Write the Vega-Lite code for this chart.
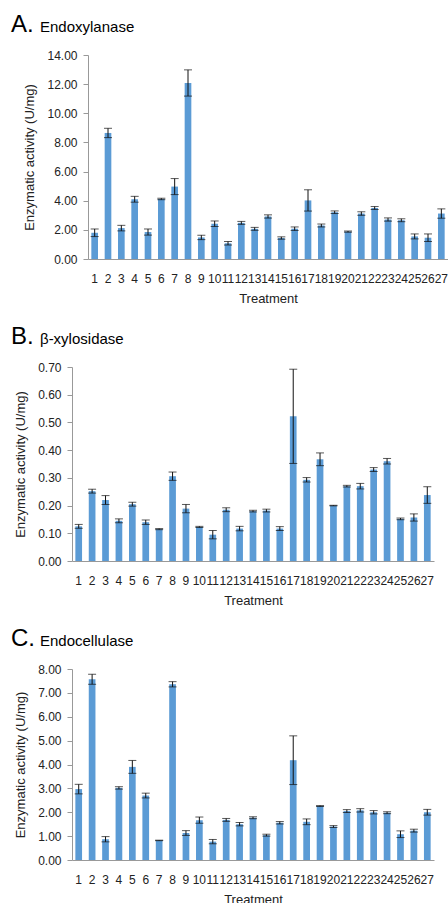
{
  "$schema": "https://vega.github.io/schema/vega-lite/v6.json",
  "padding": {"left": 11, "top": 13, "right": 0, "bottom": 0},
  "background": "white",
  "datasets": {
    "endoxylanase": [
      {"treatment": 1, "activity": 1.80, "err": 0.26},
      {"treatment": 2, "activity": 8.65, "err": 0.32},
      {"treatment": 3, "activity": 2.12, "err": 0.19},
      {"treatment": 4, "activity": 4.10, "err": 0.20},
      {"treatment": 5, "activity": 1.85, "err": 0.21},
      {"treatment": 6, "activity": 4.12, "err": 0.05},
      {"treatment": 7, "activity": 4.97, "err": 0.55},
      {"treatment": 8, "activity": 12.08, "err": 0.90},
      {"treatment": 9, "activity": 1.48, "err": 0.15},
      {"treatment": 10, "activity": 2.42, "err": 0.19},
      {"treatment": 11, "activity": 1.08, "err": 0.12},
      {"treatment": 12, "activity": 2.48, "err": 0.10},
      {"treatment": 13, "activity": 2.07, "err": 0.10},
      {"treatment": 14, "activity": 2.92, "err": 0.11},
      {"treatment": 15, "activity": 1.44, "err": 0.08},
      {"treatment": 16, "activity": 2.08, "err": 0.12},
      {"treatment": 17, "activity": 4.02, "err": 0.73},
      {"treatment": 18, "activity": 2.30, "err": 0.10},
      {"treatment": 19, "activity": 3.21, "err": 0.09},
      {"treatment": 20, "activity": 1.88, "err": 0.04},
      {"treatment": 21, "activity": 3.12, "err": 0.12},
      {"treatment": 22, "activity": 3.50, "err": 0.10},
      {"treatment": 23, "activity": 2.71, "err": 0.11},
      {"treatment": 24, "activity": 2.66, "err": 0.10},
      {"treatment": 25, "activity": 1.55, "err": 0.17},
      {"treatment": 26, "activity": 1.46, "err": 0.26},
      {"treatment": 27, "activity": 3.12, "err": 0.32}
    ],
    "xylosidase": [
      {"treatment": 1, "activity": 0.125, "err": 0.007},
      {"treatment": 2, "activity": 0.252, "err": 0.007},
      {"treatment": 3, "activity": 0.220, "err": 0.016},
      {"treatment": 4, "activity": 0.145, "err": 0.007},
      {"treatment": 5, "activity": 0.205, "err": 0.007},
      {"treatment": 6, "activity": 0.140, "err": 0.008},
      {"treatment": 7, "activity": 0.115, "err": 0.002},
      {"treatment": 8, "activity": 0.306, "err": 0.015},
      {"treatment": 9, "activity": 0.189, "err": 0.015},
      {"treatment": 10, "activity": 0.123, "err": 0.002},
      {"treatment": 11, "activity": 0.095, "err": 0.015},
      {"treatment": 12, "activity": 0.185, "err": 0.007},
      {"treatment": 13, "activity": 0.117, "err": 0.008},
      {"treatment": 14, "activity": 0.180, "err": 0.003},
      {"treatment": 15, "activity": 0.182, "err": 0.005},
      {"treatment": 16, "activity": 0.117, "err": 0.007},
      {"treatment": 17, "activity": 0.522, "err": 0.170},
      {"treatment": 18, "activity": 0.293, "err": 0.008},
      {"treatment": 19, "activity": 0.367, "err": 0.023},
      {"treatment": 20, "activity": 0.200, "err": 0.001},
      {"treatment": 21, "activity": 0.270, "err": 0.003},
      {"treatment": 22, "activity": 0.270, "err": 0.010},
      {"treatment": 23, "activity": 0.330, "err": 0.007},
      {"treatment": 24, "activity": 0.360, "err": 0.010},
      {"treatment": 25, "activity": 0.152, "err": 0.003},
      {"treatment": 26, "activity": 0.157, "err": 0.013},
      {"treatment": 27, "activity": 0.238, "err": 0.030}
    ],
    "endocellulase": [
      {"treatment": 1, "activity": 2.97, "err": 0.20},
      {"treatment": 2, "activity": 7.57, "err": 0.21},
      {"treatment": 3, "activity": 0.87, "err": 0.11},
      {"treatment": 4, "activity": 3.02, "err": 0.05},
      {"treatment": 5, "activity": 3.90, "err": 0.27},
      {"treatment": 6, "activity": 2.70, "err": 0.10},
      {"treatment": 7, "activity": 0.82, "err": 0.01},
      {"treatment": 8, "activity": 7.36, "err": 0.11},
      {"treatment": 9, "activity": 1.13, "err": 0.10},
      {"treatment": 10, "activity": 1.67, "err": 0.13},
      {"treatment": 11, "activity": 0.77, "err": 0.09},
      {"treatment": 12, "activity": 1.68, "err": 0.06},
      {"treatment": 13, "activity": 1.50, "err": 0.07},
      {"treatment": 14, "activity": 1.77, "err": 0.04},
      {"treatment": 15, "activity": 1.04, "err": 0.04},
      {"treatment": 16, "activity": 1.56, "err": 0.05},
      {"treatment": 17, "activity": 4.18, "err": 1.02},
      {"treatment": 18, "activity": 1.60, "err": 0.12},
      {"treatment": 19, "activity": 2.26, "err": 0.02},
      {"treatment": 20, "activity": 1.40, "err": 0.04},
      {"treatment": 21, "activity": 2.05, "err": 0.06},
      {"treatment": 22, "activity": 2.08, "err": 0.07},
      {"treatment": 23, "activity": 2.00, "err": 0.07},
      {"treatment": 24, "activity": 1.98, "err": 0.04},
      {"treatment": 25, "activity": 1.08, "err": 0.14},
      {"treatment": 26, "activity": 1.23, "err": 0.06},
      {"treatment": 27, "activity": 2.00, "err": 0.12}
    ]
  },
  "columns": 1,
  "spacing": 20,
  "concat": [
    {
      "title": {"text": "Endoxylanase", "fontSize": 15, "frame": "bounds", "offset": 0, "dx": 29, "dy": 22},
      "vconcat": [
        {
          "title": {"text": "A.", "dx": -61},
          "width": 376,
          "height": 204,
          "data": {"name": "endoxylanase"},
          "encoding": {
            "x": {"field": "treatment", "type": "ordinal", "title": "Treatment",
                  "scale": {"range": [16, 376], "paddingInner": 0.5, "paddingOuter": 0.25}},
            "y": {"field": "activity", "type": "quantitative", "title": "Enzymatic activity (U/mg)",
                  "scale": {"domain": [0, 14], "nice": false},
                  "axis": {"values": [0, 2, 4, 6, 8, 10, 12, 14], "format": ".2f", "offset": -16}}
          },
          "layer": [
            {"mark": {"type": "bar", "color": "#5b9bd5"}},
            {"mark": {"type": "errorbar", "ticks": {"size": 8, "color": "#111"}, "color": "#111", "thickness": 1}, "encoding": {"yError": {"field": "err"}}}
          ]
        }
      ]
    },
    {
      "title": {"text": "β-xylosidase", "fontSize": 15, "frame": "bounds", "offset": 0, "dx": 29, "dy": 22},
      "vconcat": [
        {
          "title": {"text": "B.", "dx": -61},
          "width": 362,
          "height": 194,
          "data": {"name": "xylosidase"},
          "encoding": {
            "x": {"field": "treatment", "type": "ordinal", "title": "Treatment", "scale": {"paddingInner": 0.5, "paddingOuter": 0.25}},
            "y": {"field": "activity", "type": "quantitative", "title": "Enzymatic activity (U/mg)",
                  "scale": {"domain": [0, 0.7], "nice": false},
                  "axis": {"values": [0, 0.1, 0.2, 0.3, 0.4, 0.5, 0.6, 0.7], "format": ".2f"}}
          },
          "layer": [
            {"mark": {"type": "bar", "color": "#5b9bd5"}},
            {"mark": {"type": "errorbar", "ticks": {"size": 8, "color": "#111"}, "color": "#111", "thickness": 1}, "encoding": {"yError": {"field": "err"}}}
          ]
        }
      ]
    },
    {
      "title": {"text": "Endocellulase", "fontSize": 15, "frame": "bounds", "offset": 0, "dx": 29, "dy": 22},
      "vconcat": [
        {
          "title": {"text": "C.", "dx": -61},
          "width": 362,
          "height": 191,
          "data": {"name": "endocellulase"},
          "encoding": {
            "x": {"field": "treatment", "type": "ordinal", "title": "Treatment", "scale": {"paddingInner": 0.5, "paddingOuter": 0.25}},
            "y": {"field": "activity", "type": "quantitative", "title": "Enzymatic activity (U/mg)",
                  "scale": {"domain": [0, 8], "nice": false},
                  "axis": {"values": [0, 1, 2, 3, 4, 5, 6, 7, 8], "format": ".2f"}}
          },
          "layer": [
            {"mark": {"type": "bar", "color": "#5b9bd5"}},
            {"mark": {"type": "errorbar", "ticks": {"size": 8, "color": "#111"}, "color": "#111", "thickness": 1}, "encoding": {"yError": {"field": "err"}}}
          ]
        }
      ]
    }
  ],
  "config": {
    "font": "Liberation Sans",
    "view": {"stroke": null},
    "title": {"anchor": "start", "frame": "group", "fontSize": 24, "fontWeight": "normal", "color": "#000", "offset": 12},
    "axis": {"grid": false, "domainColor": "#999", "tickColor": "#999", "labelColor": "#222", "titleColor": "#222",
             "labelFontSize": 12, "titleFontSize": 13, "titleFontWeight": "normal", "labelFont": "Liberation Sans", "titleFont": "Liberation Sans"},
    "axisX": {"ticks": false, "tickSize": 0, "labelAngle": 0, "labelPadding": 14, "labelOverlap": false, "labelBound": false, "titlePadding": 8},
    "axisY": {"tickSize": 5, "labelPadding": 6, "titlePadding": 10}
  }
}
